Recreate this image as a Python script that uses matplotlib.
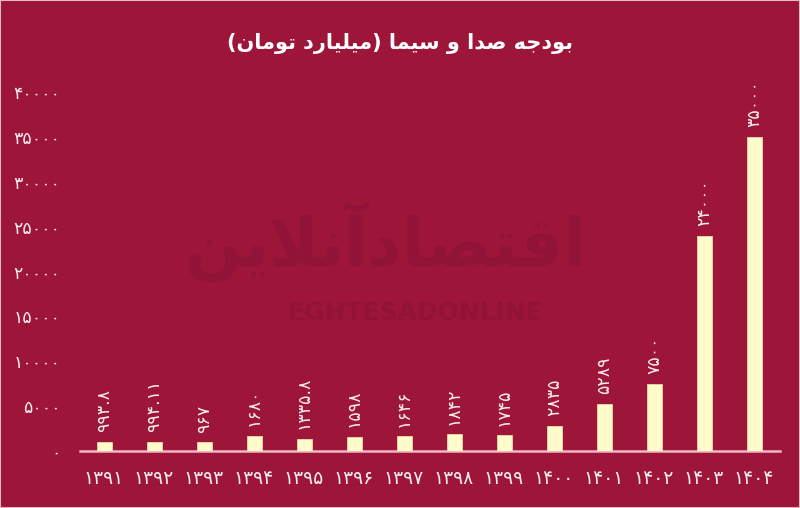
import matplotlib
matplotlib.use("Agg")
import matplotlib.pyplot as plt
from matplotlib.patches import Rectangle

# ---------------- data ----------------
years = ["1391", "1392", "1393", "1394", "1395", "1396", "1397",
         "1398", "1399", "1400", "1401", "1402", "1403", "1404"]
values = [993.8, 994.11, 967, 1680, 1335.8, 1598, 1646,
          1842, 1745, 2835, 5289, 7500, 24000, 35000]
value_labels = ["993.8", "994.11", "967", "1680", "1335.8", "1598", "1646",
                "1842", "1745", "2835", "5289", "7500", "24000", "35000"]
yticks = [0, 5000, 10000, 15000, 20000, 25000, 30000, 35000, 40000]
title_text = "بودجه صدا و سیما (میلیارد تومان)"
watermark_fa = "اقتصادآنلاین"
watermark_en = "EGHTESADONLINE"

# ---------------- helpers ----------------
FA_DIGITS = str.maketrans("0123456789", "۰۱۲۳۴۵۶۷۸۹")


def fa(s):
    return str(s).translate(FA_DIGITS)


FORMS = {
    '\u0627': ('\uFE8D', '\uFE8E', None, None),
    '\u0622': ('\uFE81', '\uFE82', None, None),
    '\u0628': ('\uFE8F', '\uFE90', '\uFE91', '\uFE92'),
    '\u062A': ('\uFE95', '\uFE96', '\uFE97', '\uFE98'),
    '\u062C': ('\uFE9D', '\uFE9E', '\uFE9F', '\uFEA0'),
    '\u062F': ('\uFEA9', '\uFEAA', None, None),
    '\u0631': ('\uFEAD', '\uFEAE', None, None),
    '\u0633': ('\uFEB1', '\uFEB2', '\uFEB3', '\uFEB4'),
    '\u0635': ('\uFEB9', '\uFEBA', '\uFEBB', '\uFEBC'),
    '\u0642': ('\uFED5', '\uFED6', '\uFED7', '\uFED8'),
    '\u0644': ('\uFEDD', '\uFEDE', '\uFEDF', '\uFEE0'),
    '\u0645': ('\uFEE1', '\uFEE2', '\uFEE3', '\uFEE4'),
    '\u0646': ('\uFEE5', '\uFEE6', '\uFEE7', '\uFEE8'),
    '\u0647': ('\uFEE9', '\uFEEA', '\uFEEB', '\uFEEC'),
    '\u0648': ('\uFEED', '\uFEEE', None, None),
    '\u06CC': ('\uFBFC', '\uFBFD', '\uFBFE', '\uFBFF'),
}
LAMALEF = {'\u0627': ('\uFEFB', '\uFEFC'), '\u0622': ('\uFEF5', '\uFEF6')}


def shape_rtl(s):
    ch = list(s)
    out = []
    i = 0
    while i < len(ch):
        c = ch[i]
        if c not in FORMS:
            out.append(c)
            i += 1
            continue
        prev = ch[i - 1] if i > 0 else None
        jp = prev in FORMS and FORMS[prev][2] is not None
        if c == '\u0644' and i + 1 < len(ch) and ch[i + 1] in LAMALEF:
            out.append(LAMALEF[ch[i + 1]][1 if jp else 0])
            i += 2
            continue
        nxt = ch[i + 1] if i + 1 < len(ch) else None
        jn = FORMS[c][2] is not None and nxt in FORMS
        f = FORMS[c]
        if jp and jn:
            out.append(f[3])
        elif jp:
            out.append(f[1])
        elif jn:
            out.append(f[2])
        else:
            out.append(f[0])
        i += 1
    vis = "".join(reversed(out))
    return vis.translate(str.maketrans("()", ")("))


# ---------------- style ----------------
BG = "#9E153A"
BAR = "#FFFBCB"
TXT = "#F7EEF0"
WM = "#911337"

plt.rcParams['font.family'] = ['DejaVu Sans']

fig = plt.figure(figsize=(8.0, 5.08), dpi=100, facecolor=BG)
ax = fig.add_axes([0.1, 0.1122, 0.875, 0.7067])
ax.set_facecolor(BG)

# watermark
fig.text(0.482, 0.525, shape_rtl(watermark_fa), ha="center", va="center",
         fontsize=48, fontweight="bold", color=WM, zorder=0)
fig.text(0.52, 0.383, watermark_en, ha="center", va="center",
         fontsize=18, fontweight="bold", color=WM, zorder=0)

x = list(range(len(years)))
ax.bar(x, values, width=0.3, color=BAR, edgecolor="#E9D9A6", linewidth=0.6, zorder=3)

for xi, v, lab in zip(x, values, value_labels):
    ax.annotate(fa(lab), (xi, v), xytext=(0, 7), textcoords="offset points",
                rotation=90, ha="center", va="bottom", fontsize=12.5,
                color=TXT, annotation_clip=False, zorder=4)

ax.set_xlim(-0.48, 13.52)
ax.set_ylim(0, 40000)
ax.set_xticks(x)
ax.set_xticklabels([fa(y) for y in years], fontsize=13.5, color=TXT)
ax.set_yticks(yticks)
ax.set_yticklabels([fa(t) for t in yticks], fontsize=12.5, color=TXT)
ax.tick_params(axis="both", length=0)
ax.tick_params(axis="x", pad=13)
ax.tick_params(axis="y", pad=14)

for s in ["top", "right", "left"]:
    ax.spines[s].set_visible(False)
ax.spines["bottom"].set_color("#F2B7C6")
ax.spines["bottom"].set_linewidth(1.8)

fig.text(0.5, 0.915, shape_rtl(title_text), ha="center", va="center",
         fontsize=15, fontweight="bold", color="white")

# thin light frame around the figure
fig.patches.append(Rectangle((0, 0), 1, 1, transform=fig.transFigure,
                             fill=False, edgecolor="#E3B9C4", linewidth=1.5))

fig.savefig("out.png", dpi=100, facecolor=BG)
